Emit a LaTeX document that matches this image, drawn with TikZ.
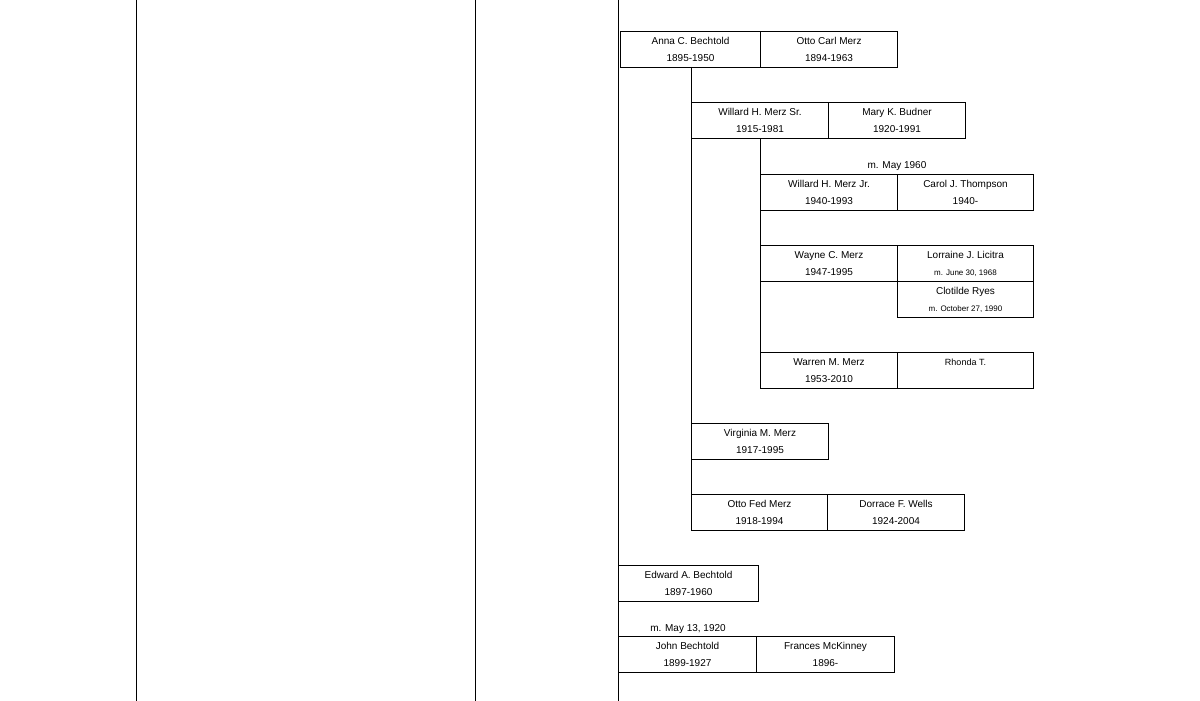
\documentclass[tikz,border=0pt]{standalone}
\usepackage{fontspec}
\setmainfont{Liberation Sans}
\begin{document}
\begin{tikzpicture}[x=1pt,y=1pt,line width=1pt,
  fbox/.style={draw,anchor=north west,minimum height=36pt,inner sep=0pt,align=center,font=\fontsize{10}{17}\selectfont},
  lbl/.style={inner sep=0pt,font=\fontsize{10}{12}\selectfont},
  sm/.style={font=\fontsize{8}{10}\selectfont}]
\useasboundingbox (0,-701) rectangle (1200,0);
\fill[white] (0,-701) rectangle (1200,0);
\draw (136,0) -- (136,-701);
\draw (475,0) -- (475,-701);
\draw (618,0) -- (618,-701);
\node[fbox,minimum width=140pt] (anna) at (620,-31) {Anna C. Bechtold\\1895-1950};
\node[fbox,minimum width=137pt] (otto) at (760,-31) {Otto Carl Merz\\1894-1963};
\node[fbox,minimum width=137pt] (wsr) at (691,-102) {Willard H. Merz Sr.\\1915-1981};
\node[fbox,minimum width=137pt] (mary) at (828,-102) {Mary K. Budner\\1920-1991};
\node[lbl] (m1) at (897,-166) {m. May 1960};
\node[fbox,minimum width=137pt] (wjr) at (760,-174) {Willard H. Merz Jr.\\1940-1993};
\node[fbox,minimum width=136pt] (carol) at (897,-174) {Carol J. Thompson\\1940-};
\node[fbox,minimum width=137pt] (wayne) at (760,-245) {Wayne C. Merz\\1947-1995};
\node[fbox,minimum width=136pt] (lor) at (897,-245) {Lorraine J. Licitra\\{\footnotesize m. June 30, 1968}};
\node[fbox,minimum width=136pt] (clo) at (897,-281) {Clotilde Ryes\\{\footnotesize m. October 27, 1990}};
\node[fbox,minimum width=137pt] (warren) at (760,-352) {Warren M. Merz\\1953-2010};
\node[fbox,minimum width=136pt] (rhonda) at (897,-352) {{\small Rhonda T.}\\\mbox{}};
\node[fbox,minimum width=137pt] (virg) at (691,-423) {Virginia M. Merz\\1917-1995};
\node[fbox,minimum width=136pt] (ofed) at (691,-494) {Otto Fed Merz\\1918-1994};
\node[fbox,minimum width=137pt] (dor) at (827,-494) {Dorrace F. Wells\\1924-2004};
\node[fbox,minimum width=140pt] (edw) at (618,-565) {Edward A. Bechtold\\1897-1960};
\node[lbl] (m2) at (688,-629) {m. May 13, 1920};
\node[fbox,minimum width=138pt] (john) at (618,-636) {John Bechtold\\1899-1927};
\node[fbox,minimum width=138pt] (fran) at (756,-636) {Frances McKinney\\1896-};
\coordinate (a1) at (691,-67);
\coordinate (w1) at (760,-138);
\draw (a1) -- (ofed.south west);
\draw (w1) -- (warren.south west);
\end{tikzpicture}
\end{document}
